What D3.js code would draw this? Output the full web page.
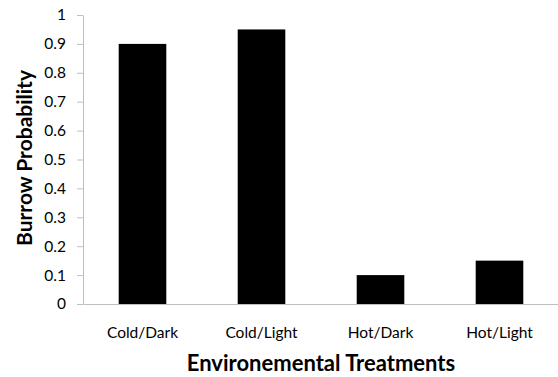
<!DOCTYPE html>
<html><head><meta charset="utf-8">
<script src="https://cdn.jsdelivr.net/npm/d3@7"></script>
<style>body{margin:0;background:#fff;}svg{display:block;font-family:Lato, "Open Sans", sans-serif;}</style>
</head><body>
<svg id="c" width="558" height="377"></svg>
<script>
const categories = ["Cold/Dark", "Cold/Light", "Hot/Dark", "Hot/Light"];
const values = [0.9, 0.95, 0.1, 0.15];
const yTicks = [0, 0.1, 0.2, 0.3, 0.4, 0.5, 0.6, 0.7, 0.8, 0.9, 1];
const xTitle = "Environemental Treatments";
const yTitle = "Burrow Probability";

const svg = d3.select("#c");
const m = {l: 83, r: 0, t: 15, b: 73};
const x = d3.scaleBand().domain(categories).range([m.l, 559]).paddingInner(0.6).paddingOuter(0.3);
const y = d3.scaleLinear().domain([0, 1]).range([304, 15]);

// y axis
const ya = svg.append("g").attr("transform", `translate(${m.l},0)`)
  .call(d3.axisLeft(y).tickValues(yTicks).tickFormat(d => String(+d.toFixed(1))).tickSize(6).tickSizeOuter(0));
ya.select(".domain").attr("stroke", "#bfbfbf");
ya.selectAll(".tick line").attr("stroke", "#bfbfbf");
ya.selectAll(".tick text").attr("fill", "#000").attr("font-size", 15.5).attr("x", -17).attr("font-family", "Lato");

// bars
svg.append("g").selectAll("rect").data(values).join("rect")
  .attr("x", (d, i) => x(categories[i]))
  .attr("width", x.bandwidth())
  .attr("y", d => y(d))
  .attr("height", d => y(0) - y(d))
  .attr("fill", "#000");

// x axis
const xa = svg.append("g").attr("transform", `translate(0,${y(0)})`)
  .call(d3.axisBottom(x).tickSize(0).tickPadding(23));
xa.select(".domain").attr("stroke", "#bfbfbf");
xa.selectAll(".tick text").attr("fill", "#000").attr("font-size", 15.5).attr("font-family", "Lato");

svg.append("text").attr("x", 321).attr("y", 371).attr("text-anchor", "middle")
  .attr("font-size", 22).attr("font-weight", "bold").text(xTitle);
svg.append("text").attr("transform", "translate(32,158) rotate(-90)").attr("text-anchor", "middle")
  .attr("font-size", 21).attr("font-weight", "bold").text(yTitle);
</script>
</body></html>
